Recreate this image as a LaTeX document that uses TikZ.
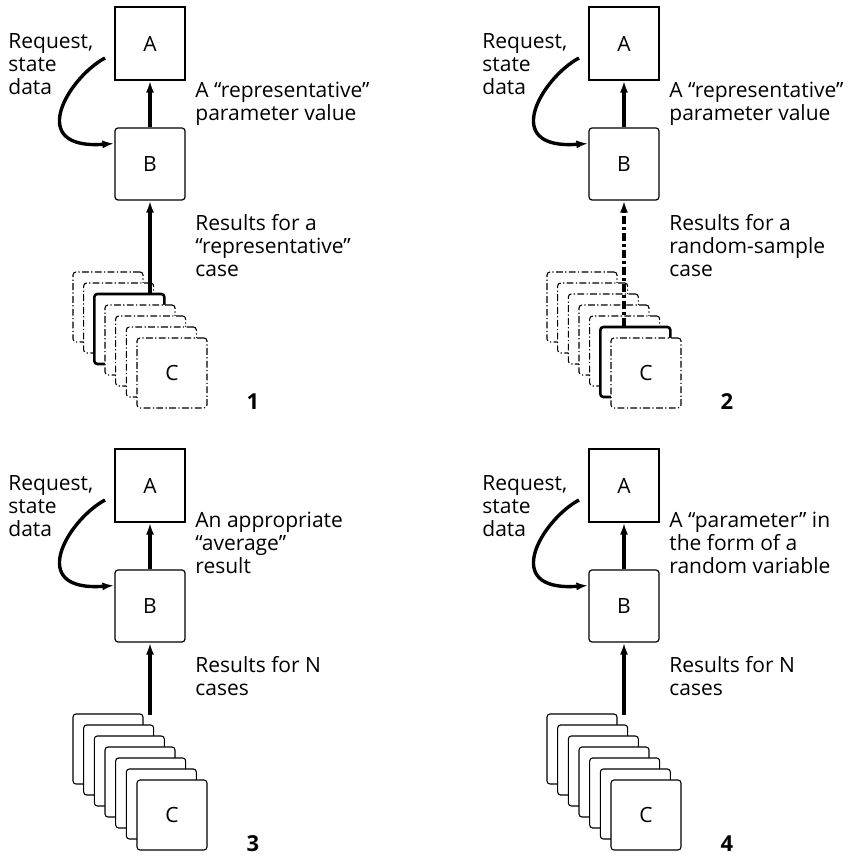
\documentclass[tikz,border=0pt]{standalone}
\usepackage{fontspec}
\setmainfont{Open Sans}
\usetikzlibrary{arrows.meta, calc}

\begin{document}
\begin{tikzpicture}[
    x=0.5pt, y=-0.5pt,
    every node/.style={font=\fontsize{10.5}{11.5}\selectfont},
    boxA/.style={rectangle, draw, line width=0.6pt, fill=white,
                 minimum width=35pt, minimum height=36.5pt, inner sep=0pt},
    boxB/.style={boxA, rounded corners=1.5pt, minimum height=36pt},
    card/.style={rectangle, draw, line width=0.55pt, fill=white,
                 rounded corners=1.5pt, minimum size=35pt, inner sep=0pt},
    ghost/.style={card, dash pattern=on 3.4pt off 1.2pt on 0.6pt off 1.2pt},
    picked/.style={card, line width=1.3pt},
    flow/.style={-{Latex[length=6pt,width=4pt]}, line width=1.7pt},
    sample/.style={flow, dash pattern=on 4pt off 1.5pt on 1.5pt off 1.5pt},
    note/.style={align=left, inner sep=0pt, anchor=base west},
    tag/.style={font=\fontsize{11}{12}\selectfont\bfseries}
  ]
  \useasboundingbox (0,0) rectangle (859,855);

  % 1: one representative case
  \begin{scope}
    \node[boxA] (a1) at (150,43.5) {A};
    \node[boxB] (b1) at (150,164) {B};
    \foreach \i/\s in {0/ghost,1/ghost,2/picked,3/ghost,4/ghost,5/ghost}
      \node[\s] (c1-\i) at ({108+10.67*\i},{307+11*\i}) {};
    \node[ghost] (c1-6) at (172,373) {C};

    \draw[flow] (c1-2.north -| b1.south) -- (b1.south);
    \draw[flow] (b1) -- (a1);
    \coordinate (r1) at (105,58);
    \coordinate (e1) at ($(b1.north west)!0.22!(b1.south west)$);
    \draw[flow] (r1) .. controls (68,78) and (25,150) .. (e1);

    % multi-line notes sit on the baseline of their last line
    \node[note] (q1) at (8,95) {Request,\\state\\data};
    \node[note] (p1) at (195,121) {A “representative”\\parameter value};
    \node[note] (t1) at (195,277) {Results for a\\“representative”\\case};
    \node[tag] (n1) at (253,402) {1};
  \end{scope}

  % 2: one random-sample case
  \begin{scope}[shift={(474,0)}]
    \node[boxA] (a2) at (150,43.5) {A};
    \node[boxB] (b2) at (150,164) {B};
    \foreach \i/\s in {0/ghost,1/ghost,2/ghost,3/ghost,4/ghost,5/picked}
      \node[\s] (c2-\i) at ({108+10.67*\i},{307+11*\i}) {};
    \node[ghost] (c2-6) at (172,373) {C};

    \draw[sample] (c2-5.north -| b2.south) -- (b2.south);
    \draw[flow] (b2) -- (a2);
    \coordinate (r2) at (105,58);
    \coordinate (e2) at ($(b2.north west)!0.22!(b2.south west)$);
    \draw[flow] (r2) .. controls (68,78) and (25,150) .. (e2);

    \node[note] (q2) at (8,95) {Request,\\state\\data};
    \node[note] (p2) at (195,121) {A “representative”\\parameter value};
    \node[note] (t2) at (195,277) {Results for a\\random-sample\\case};
    \node[tag] (n2) at (253,402) {2};
  \end{scope}

  % 3: all N cases, averaged
  \begin{scope}[shift={(0,442)}]
    \node[boxA] (a3) at (150,43.5) {A};
    \node[boxB] (b3) at (150,164) {B};
    \foreach \i in {0,...,5}
      \node[card] (c3-\i) at ({108+10.67*\i},{307+11*\i}) {};
    \node[card] (c3-6) at (172,373) {C};

    \coordinate (s3) at (150,273);
    \draw[flow] (s3) -- (b3.south);
    \draw[flow] (b3) -- (a3);
    \coordinate (r3) at (105,58);
    \coordinate (e3) at ($(b3.north west)!0.22!(b3.south west)$);
    \draw[flow] (r3) .. controls (68,78) and (25,150) .. (e3);

    \node[note] (q3) at (8,95) {Request,\\state\\data};
    \node[note] (p3) at (195,132) {An appropriate\\“average”\\result};
    \node[note] (t3) at (195,254) {Results for N\\cases};
    \node[tag] (n3) at (253,402) {3};
  \end{scope}

  % 4: all N cases, as a random variable
  \begin{scope}[shift={(474,442)}]
    \node[boxA] (a4) at (150,43.5) {A};
    \node[boxB] (b4) at (150,164) {B};
    \foreach \i in {0,...,5}
      \node[card] (c4-\i) at ({108+10.67*\i},{307+11*\i}) {};
    \node[card] (c4-6) at (172,373) {C};

    \coordinate (s4) at (150,273);
    \draw[flow] (s4) -- (b4.south);
    \draw[flow] (b4) -- (a4);
    \coordinate (r4) at (105,58);
    \coordinate (e4) at ($(b4.north west)!0.22!(b4.south west)$);
    \draw[flow] (r4) .. controls (68,78) and (25,150) .. (e4);

    \node[note] (q4) at (8,95) {Request,\\state\\data};
    \node[note] (p4) at (195,132) {A “parameter” in\\the form of a\\random variable};
    \node[note] (t4) at (195,254) {Results for N\\cases};
    \node[tag] (n4) at (253,402) {4};
  \end{scope}
\end{tikzpicture}
\end{document}
